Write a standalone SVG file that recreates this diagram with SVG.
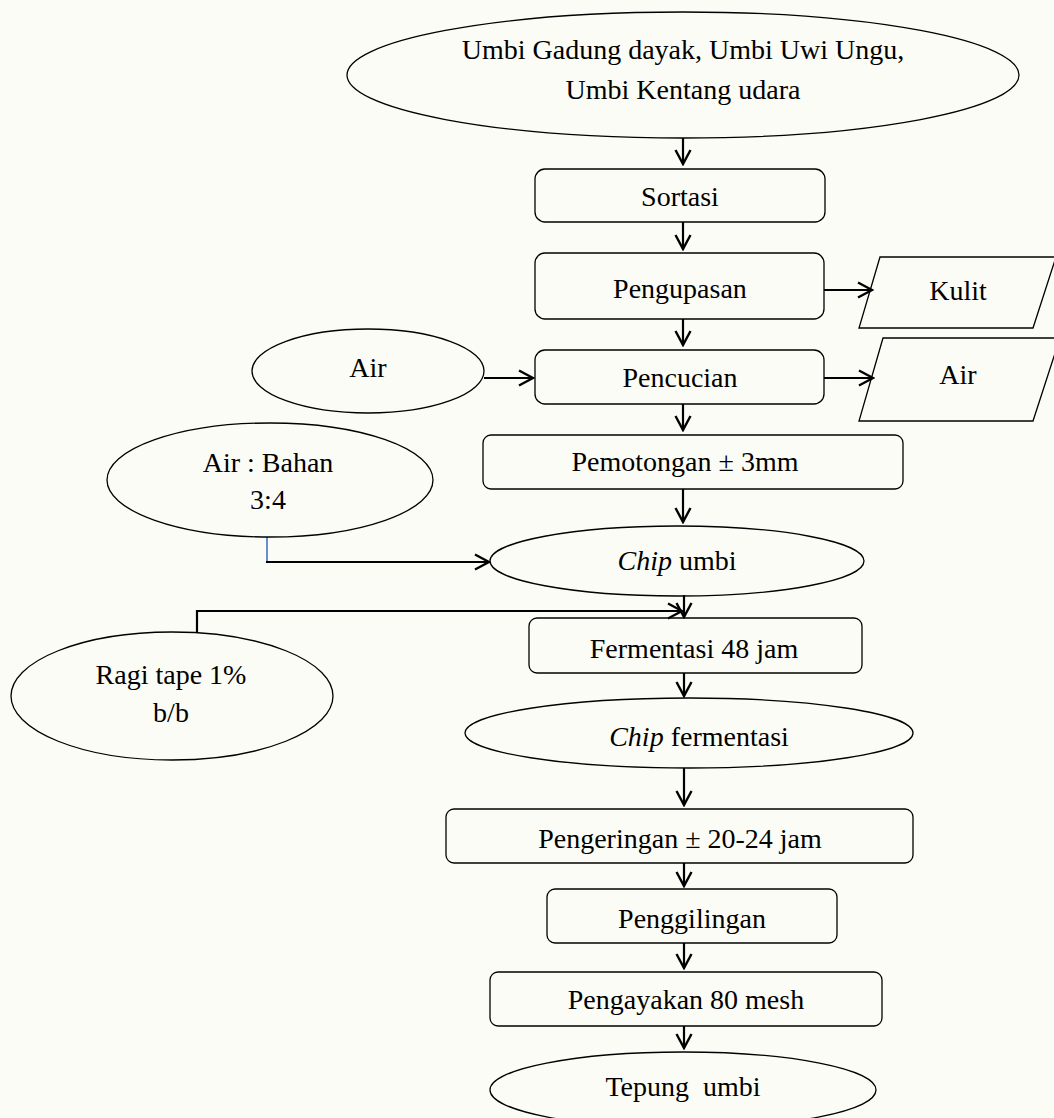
<svg xmlns="http://www.w3.org/2000/svg" width="1054" height="1118" viewBox="0 0 1054 1118">
<style>
.bg{fill:#fcfcf7}
.node{fill:none;stroke:#000;stroke-width:1.3}
.t{font-family:"Liberation Serif","Times New Roman",serif;font-size:28px;fill:#000;text-anchor:middle}
.c{fill:none;stroke:#000;stroke-width:2.2}
.blue{fill:none;stroke:#4472c4;stroke-width:1.6}
</style>
<defs>
<marker id="ah" markerUnits="userSpaceOnUse" markerWidth="18" markerHeight="18" viewBox="0 0 18 18" refX="16" refY="9" orient="auto">
<path d="M2,1.5 L16,9 L2,16.5" fill="none" stroke="#000" stroke-width="2.4"/>
</marker>
</defs>
<rect class="bg" x="0" y="0" width="1054" height="1118"/>

<g id="connectors">
<line class="c" x1="683" y1="138" x2="683" y2="164" marker-end="url(#ah)"/>
<line class="c" x1="683" y1="222" x2="683" y2="249" marker-end="url(#ah)"/>
<line class="c" x1="824" y1="290" x2="872" y2="290" marker-end="url(#ah)"/>
<line class="c" x1="683" y1="319" x2="683" y2="345" marker-end="url(#ah)"/>
<line class="c" x1="484" y1="378" x2="533" y2="378" marker-end="url(#ah)"/>
<line class="c" x1="824" y1="378" x2="873" y2="378" marker-end="url(#ah)"/>
<line class="c" x1="683" y1="404" x2="683" y2="430" marker-end="url(#ah)"/>
<line class="c" x1="683" y1="489" x2="683" y2="522" marker-end="url(#ah)"/>
<line class="blue" x1="267" y1="537" x2="267" y2="562"/>
<polyline class="c" points="266,562 489,562" marker-end="url(#ah)"/>
<line class="c" x1="684" y1="595" x2="684" y2="617" marker-end="url(#ah)"/>
<polyline class="c" points="197,632 197,611 682,611" marker-end="url(#ah)"/>
<line class="c" x1="684" y1="673" x2="684" y2="696" marker-end="url(#ah)"/>
<line class="c" x1="684" y1="768" x2="684" y2="805" marker-end="url(#ah)"/>
<line class="c" x1="684" y1="863" x2="684" y2="886" marker-end="url(#ah)"/>
<line class="c" x1="684" y1="943" x2="684" y2="968" marker-end="url(#ah)"/>
<line class="c" x1="684" y1="1026" x2="684" y2="1048" marker-end="url(#ah)"/>
</g>

<g id="n-umbi">
<ellipse class="node" cx="683" cy="75" rx="336" ry="63"/>
<text class="t" x="683" y="59">Umbi Gadung dayak, Umbi Uwi Ungu,</text>
<text class="t" x="683" y="99">Umbi Kentang udara</text>
</g>
<g id="n-sortasi">
<rect class="node" x="535" y="169" width="290" height="53" rx="10"/>
<text class="t" x="680" y="206">Sortasi</text>
</g>
<g id="n-pengupasan">
<rect class="node" x="535" y="253" width="289" height="66" rx="10"/>
<text class="t" x="680" y="298">Pengupasan</text>
</g>
<g id="n-kulit">
<polygon class="node" points="880,257 1056,257 1033,328 859,328"/>
<text class="t" x="958" y="300">Kulit</text>
</g>
<g id="n-air-in">
<ellipse class="node" cx="368" cy="371" rx="116" ry="42"/>
<text class="t" x="368" y="377">Air</text>
</g>
<g id="n-pencucian">
<rect class="node" x="535" y="350" width="289" height="54" rx="10"/>
<text class="t" x="680" y="387">Pencucian</text>
</g>
<g id="n-air-out">
<polygon class="node" points="883,338 1060,338 1033,421 859,421"/>
<text class="t" x="958" y="384">Air</text>
</g>
<g id="n-pemotongan">
<rect class="node" x="483" y="435" width="420" height="54" rx="8"/>
<text class="t" x="685" y="471">Pemotongan ± 3mm</text>
</g>
<g id="n-airbahan">
<ellipse class="node" cx="270" cy="480" rx="163" ry="57"/>
<text class="t" x="268" y="472">Air : Bahan</text>
<text class="t" x="268" y="509">3:4</text>
</g>
<g id="n-chip">
<ellipse class="node" cx="677" cy="561" rx="187" ry="35"/>
<text class="t" x="677" y="570"><tspan font-style="italic">Chip</tspan> umbi</text>
</g>
<g id="n-ragi">
<ellipse class="node" cx="172" cy="696" rx="161" ry="64"/>
<text class="t" x="171" y="684">Ragi tape 1%</text>
<text class="t" x="171" y="722">b/b</text>
</g>
<g id="n-fermentasi">
<rect class="node" x="529" y="618" width="333" height="55" rx="8"/>
<text class="t" x="694" y="658">Fermentasi 48 jam</text>
</g>
<g id="n-chipferm">
<ellipse class="node" cx="689" cy="733" rx="224" ry="35"/>
<text class="t" x="699" y="746"><tspan font-style="italic">Chip</tspan> fermentasi</text>
</g>
<g id="n-pengeringan">
<rect class="node" x="446" y="809" width="467" height="54" rx="8"/>
<text class="t" x="680" y="848">Pengeringan ± 20-24 jam</text>
</g>
<g id="n-penggilingan">
<rect class="node" x="547" y="889" width="290" height="54" rx="8"/>
<text class="t" x="692" y="928">Penggilingan</text>
</g>
<g id="n-pengayakan">
<rect class="node" x="490" y="972" width="392" height="54" rx="8"/>
<text class="t" x="686" y="1009">Pengayakan 80 mesh</text>
</g>
<g id="n-tepung">
<ellipse class="node" cx="683" cy="1090" rx="193" ry="38"/>
<text class="t" x="683" y="1096" xml:space="preserve">Tepung  umbi</text>
</g>
</svg>
